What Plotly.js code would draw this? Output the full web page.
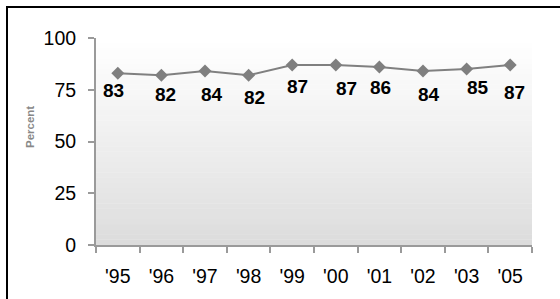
<!DOCTYPE html>
<html>
<head>
<meta charset="utf-8">
<script src="https://cdn.plot.ly/plotly-3.0.1.min.js"></script>
<style>
html,body{margin:0;padding:0;background:#fff;}
#chart{width:560px;height:299px;}
</style>
</head>
<body>
<div id="chart"></div>
<script>
const categories = ["'95","'96","'97","'98","'99","'00","'01","'02","'03","'05"];
const values = [83, 82, 84, 82, 87, 87, 86, 84, 85, 87];
const yTicks = [0, 25, 50, 75, 100];
// label placement offsets in pixels (styling, as in the reference)
const labelDx = [-4, 4, 7, 6, 5, 11, 1, 6, 11, 4];
const labelDy = [17, 19, 23, 22, 22, 24, 21, 23, 18, 28];

const W = 560, H = 299, L = 96, R = 28, T = 38, B = 54;
const pw = W - L - R, ph = H - T - B;
const FONT = 'Liberation Sans, Arial, sans-serif';

// gradient background bands (styling only)
const shapes = [];
const n = 40;
for (let i = 0; i < n; i++) {
  const f = i / (n - 1); // 0 bottom, 1 top
  const g = Math.round(220 + (255 - 220) * Math.pow(f, 0.9));
  shapes.push({type:'rect', xref:'paper', yref:'paper', x0:0, x1:1,
    y0:i/n, y1:(i+1)/n + 0.002, fillcolor:`rgb(${g},${g},${g})`,
    line:{width:0}, layer:'below'});
}
// outer border
shapes.push({type:'rect', xref:'paper', yref:'paper',
  x0:(7-L)/pw, x1:(W+10-L)/pw, y0:-(H+10-T-ph)/ph, y1:(T+ph-7)/ph,
  line:{color:'#000', width:2}, fillcolor:'rgba(0,0,0,0)', layer:'above'});

const trace = {
  type:'scatter', mode:'lines+markers',
  x: categories, y: values,
  line:{color:'#808080', width:2},
  marker:{symbol:'diamond', size:10, color:'#7f7f7f'},
  cliponaxis:false,
  hoverinfo:'skip'
};

const annotations = categories.map((c, i) => ({
  x: c, y: values[i], xref:'x', yref:'y', text: String(values[i]),
  showarrow:false, xanchor:'center', yanchor:'middle',
  xshift: labelDx[i], yshift: -labelDy[i],
  font:{family:FONT, size:19, color:'#000', weight:'bold'}
}));
annotations.push({text:'<b>Percent</b>', xref:'paper', yref:'paper',
  x:(30-L)/pw, y:(T+ph-127)/ph, textangle:-90, showarrow:false,
  font:{size:11.5, color:'#888', family:FONT},
  xanchor:'center', yanchor:'middle'});

const layout = {
  width:W, height:H,
  margin:{l:L, r:R, t:T, b:B, pad:0},
  paper_bgcolor:'#fff', plot_bgcolor:'rgba(0,0,0,0)',
  showlegend:false,
  font:{family:FONT, size:19, color:'#000'},
  xaxis:{type:'category', showgrid:false, zeroline:false,
    showline:true, linecolor:'#9a9a9a', linewidth:2,
    ticks:'outside', tickson:'boundaries', ticklen:6, tickwidth:2, tickcolor:'#9a9a9a',
    ticklabelstandoff:13, tickfont:{size:19.5, color:'#000'},
    range:[-0.5, categories.length-0.5], fixedrange:true},
  yaxis:{range:[0,100], tickvals:yTicks, ticktext:yTicks.map(String),
    showgrid:false, zeroline:false, showline:true, linecolor:'#9a9a9a', linewidth:2,
    ticks:'outside', ticklen:6, tickwidth:2, tickcolor:'#9a9a9a',
    ticklabelstandoff:8, tickfont:{size:19.5, color:'#000'}, fixedrange:true},
  shapes: shapes,
  annotations: annotations
};

Plotly.newPlot('chart', [trace], layout, {displayModeBar:false, staticPlot:true});
</script>
</body>
</html>
